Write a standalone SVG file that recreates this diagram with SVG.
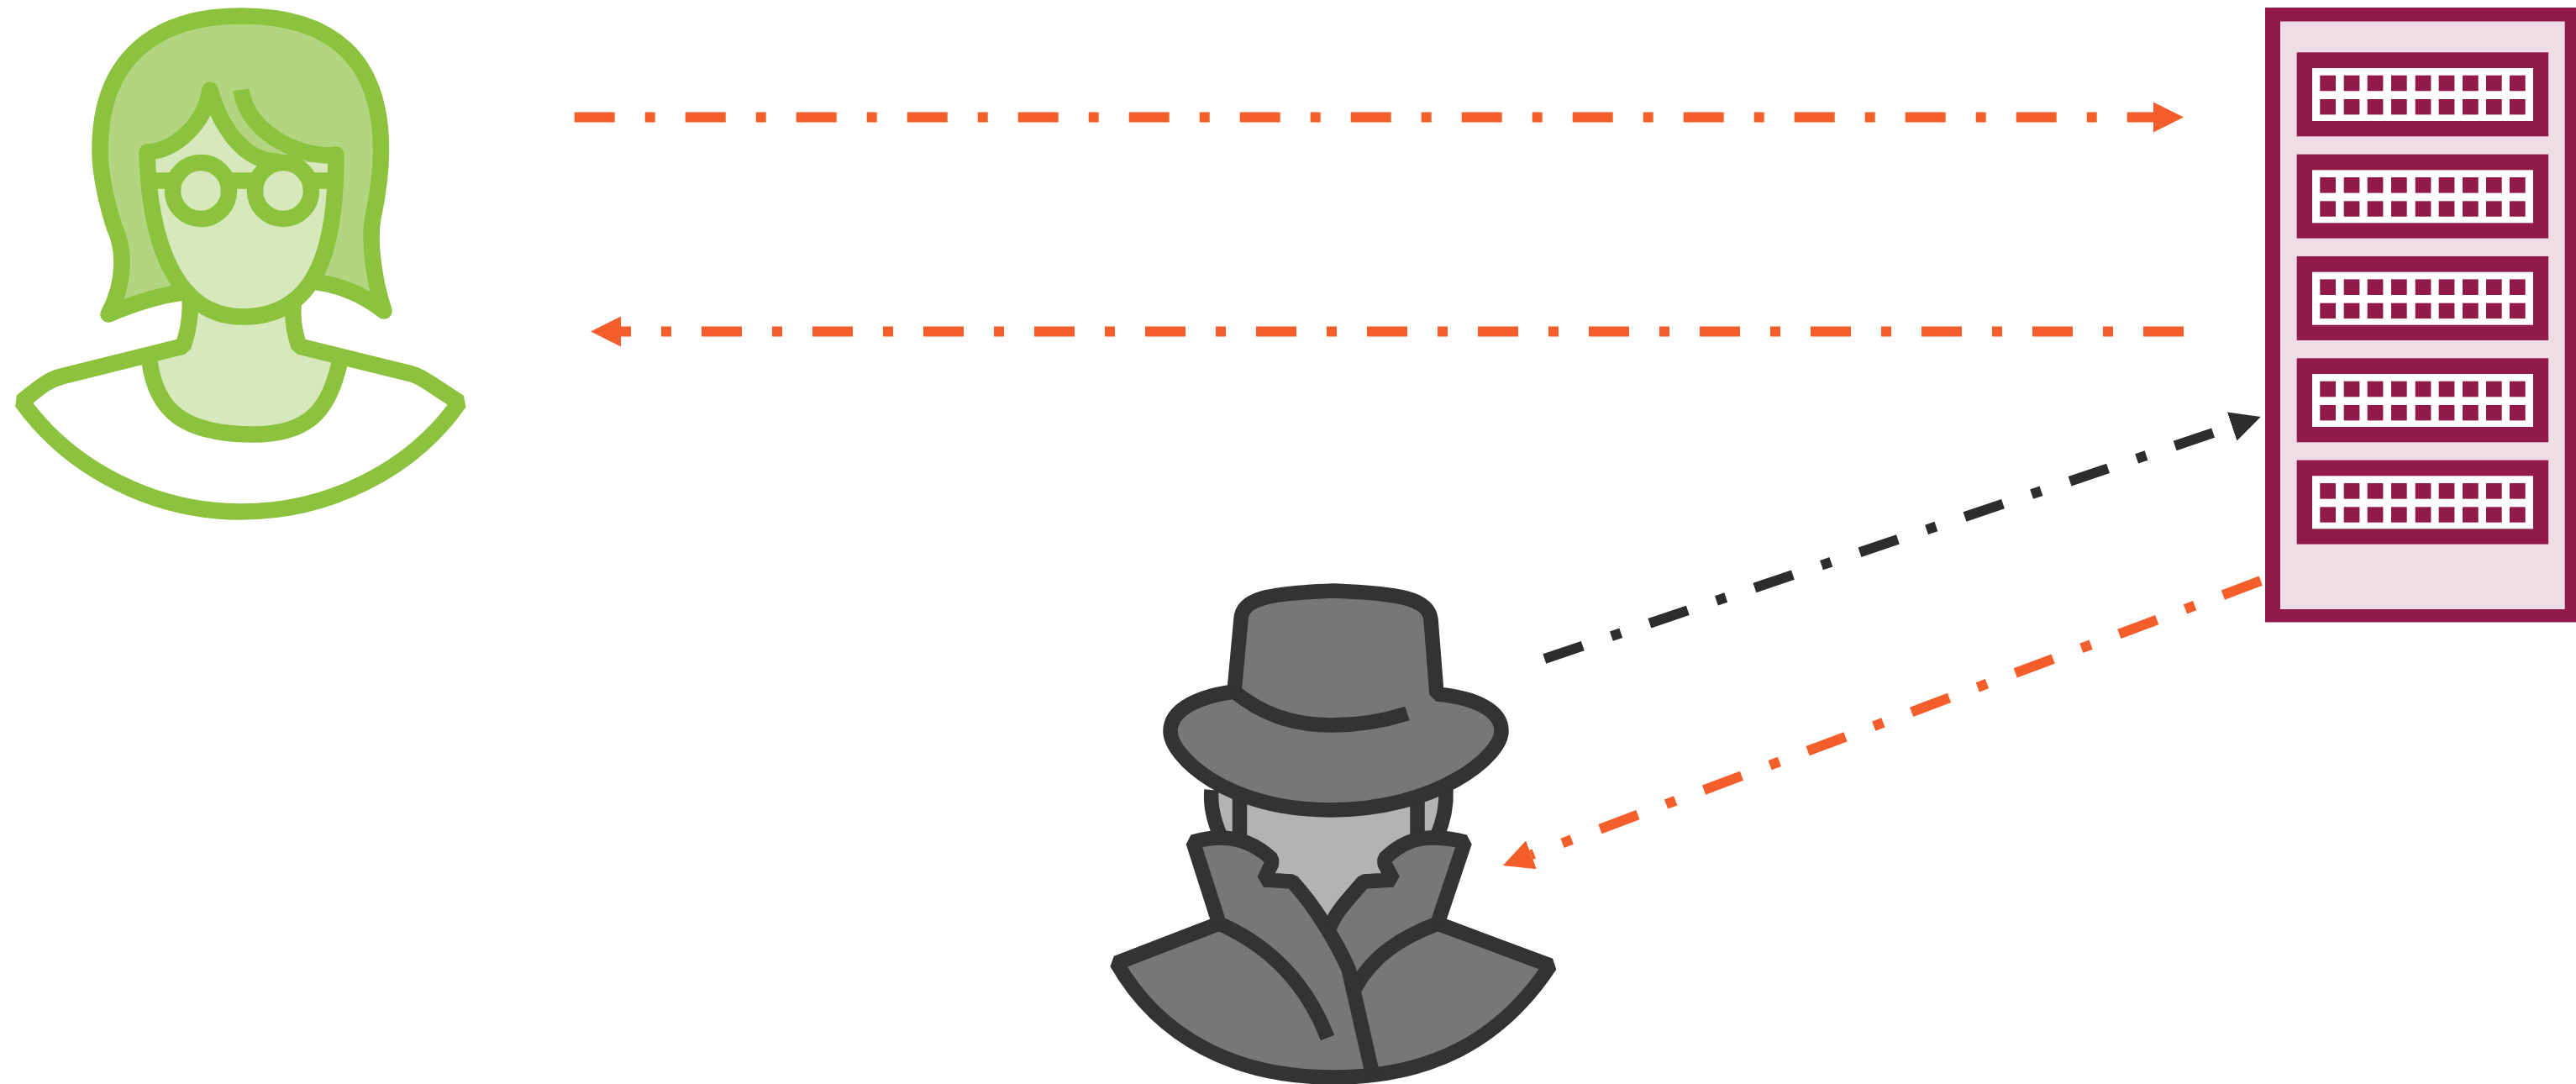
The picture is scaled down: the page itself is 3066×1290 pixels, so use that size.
<svg xmlns="http://www.w3.org/2000/svg" xmlns:xlink="http://www.w3.org/1999/xlink" width="3066" height="1290" viewBox="0 0 3066 1290">
<style>
.w{stroke:#8DC23F;stroke-width:19.5;stroke-linecap:round;stroke-linejoin:round;fill:none}
.s{stroke:#333333;stroke-width:17.5;stroke-linecap:butt;stroke-linejoin:bevel;fill:none}
.sf{fill:#777777}
.m{fill:#911A49}
.c{fill:none;stroke-width:12;stroke-dasharray:48 36 12 36}
.o{stroke:#F45E2B}
.k{stroke:#2D2D2D}
</style>
<defs>
<marker id="ao" markerUnits="userSpaceOnUse" markerWidth="36" markerHeight="36" refX="0" refY="18" orient="auto"><path d="M0,0L36,18L0,36Z" fill="#F45E2B"/></marker>
<marker id="ak" markerUnits="userSpaceOnUse" markerWidth="36" markerHeight="36" refX="0" refY="18" orient="auto"><path d="M0,0L36,18L0,36Z" fill="#2D2D2D"/></marker>
<g id="rack">
<rect class="m" x="2733.7" y="62.3" width="299.5" height="100"/>
<rect fill="#fff" x="2752" y="81" width="263" height="63"/>
<g class="m">
<rect x="2761.3" y="89.7" width="18.7" height="18.6"/><rect x="2789.7" y="89.7" width="18.7" height="18.6"/><rect x="2817.7" y="89.7" width="18.7" height="18.6"/><rect x="2846" y="89.7" width="18.7" height="18.6"/><rect x="2874.7" y="89.7" width="18.7" height="18.6"/><rect x="2902.7" y="89.7" width="18.7" height="18.6"/><rect x="2931" y="89.7" width="18.7" height="18.6"/><rect x="2959" y="89.7" width="18.7" height="18.6"/><rect x="2987" y="89.7" width="18.7" height="18.6"/>
<rect x="2761.3" y="118" width="18.7" height="18.4"/><rect x="2789.7" y="118" width="18.7" height="18.4"/><rect x="2817.7" y="118" width="18.7" height="18.4"/><rect x="2846" y="118" width="18.7" height="18.4"/><rect x="2874.7" y="118" width="18.7" height="18.4"/><rect x="2902.7" y="118" width="18.7" height="18.4"/><rect x="2931" y="118" width="18.7" height="18.4"/><rect x="2959" y="118" width="18.7" height="18.4"/><rect x="2987" y="118" width="18.7" height="18.4"/>
</g>
</g>
</defs>
<rect width="3066" height="1290" fill="#fff"/>

<g id="user">
<path d="M218,348C185,352 150,365 129,374C150,335 148,295 136,270C125,235 119,205 119,178C119,70 185,19 287,19C395,19 453.5,70 453.5,178C453.5,205 449,235 444,259C439,285 444,330 457,370C430,349 400,337 367,335" class="w" style="fill:#B2D580"/>
<path d="M226,355C228,380 222,400 218,412L73,448C55,453 45,463 26,478C85,560 185,609 287,609C390,609 490,560 546.5,479L513,457C505,452 498,447 490,445L356,412C350,395 347,375 350,355Z" fill="#fff"/>
<path d="M226,355C228,380 222,400 218,412L178,430C186,490 220,517 302,517C375,517 392,480 404,433L356,412C350,395 347,375 350,355Z" fill="#D6E9BC"/>
<path d="M226,355C228,380 222,400 218,412L73,448C55,453 45,463 26,478C85,560 185,609 287,609C390,609 490,560 546.5,479L513,457C505,452 498,447 490,445L356,412C350,395 347,375 350,355" class="w" style="stroke-linejoin:bevel"/>
<path d="M178,430C186,490 220,517 302,517C375,517 392,480 404,433" class="w"/>
<path d="M175,181C205,181 243,150 250,107C262,150 290,192 329,192L366,193L400,193C400,290 380,377 289,377C215,377 178,300 175,181Z" fill="#D6E9BC"/>
<path d="M400,184C400,290 380,377 289,377C215,377 178,300 175,181C205,181 243,150 250,107C262,150 290,192 329,192" class="w"/>
<path d="M287,107C295,165 370,190 400,184" class="w" style="stroke-linecap:butt"/>
<path d="M175,215H400" class="w" style="stroke-linecap:butt"/>
<circle cx="239" cy="227" r="33.5" class="w" style="fill:#D6E9BC"/>
<circle cx="337" cy="227" r="33.5" class="w" style="fill:#D6E9BC"/>
</g>

<g id="server">
<rect class="m" x="2696" y="9" width="370" height="731.5"/>
<rect fill="#EEDDE4" x="2714" y="25.5" width="338.7" height="699.5"/>
<use xlink:href="#rack" href="#rack"/>
<use xlink:href="#rack" href="#rack" y="121.33"/>
<use xlink:href="#rack" href="#rack" y="242.67"/>
<use xlink:href="#rack" href="#rack" y="364"/>
<use xlink:href="#rack" href="#rack" y="485.33"/>
</g>

<g id="attacker">
<path d="M1442,943C1440,960 1446,980 1453,993L1540,1060L1583,1103L1625,1060L1710,993C1717,980 1722,960 1721,943L1583,900Z" fill="#B3B3B3"/>
<path d="M1442,940C1440,960 1446,980 1453,996" class="s"/>
<path d="M1721,940C1722,960 1717,980 1710,996" class="s"/>
<path d="M1475.5,945V1000M1687,950V1000" class="s"/>
<path d="M1329,1146L1451,1099L1583,1100L1711,1099L1845,1149C1785,1240 1700,1282 1587,1282C1470,1282 1380,1235 1329,1146Z" class="sf"/>
<path d="M1451,1099L1420,1002C1430,999 1442,997 1453,997C1475,997 1495,1005 1513.5,1022V1028L1504.5,1047L1538,1049C1560,1075 1575,1100 1583,1103L1610,1180L1500,1200Z" class="sf"/>
<path d="M1711,1099L1743.4,1002C1733,999 1720,997 1703,997C1685,997 1665,1005 1648,1022V1028L1658,1047L1623,1049C1605,1070 1590,1085 1583,1103L1610,1180L1650,1130Z" class="sf"/>
<path d="M1580,1235C1555,1170 1510,1125 1451,1099L1329,1146C1380,1235 1470,1282 1587,1282C1700,1282 1785,1240 1845,1149L1711,1099C1670,1115 1635,1135 1612,1177" class="s"/>
<path d="M1451,1099L1420,1002C1430,999 1442,997 1453,997C1475,997 1495,1005 1513.5,1022V1028L1504.5,1047L1538,1049C1565,1078 1590,1120 1605,1153L1634,1280" class="s"/>
<path d="M1711,1099L1743.4,1002C1733,999 1720,997 1703,997C1685,997 1665,1005 1648,1022V1028L1658,1047L1623,1049C1605,1070 1590,1085 1583,1103" class="s"/>
<path d="M1469,823L1477,737C1478,712 1510,706 1587,703C1665,706 1700,712 1703,737L1710,826C1755,830 1787,845 1787,870C1787,900 1710,964 1583,964C1460,964 1393,900 1393,870C1393,843 1430,828 1469,823Z" class="s sf" style="fill:#777777"/>
<path d="M1469,823C1500,848 1535,863 1585,863C1620,863 1650,857 1675,849" class="s"/>
</g>

<g id="connectors">
<path d="M683.7,139.5H2563" class="c o" marker-end="url(#ao)"/>
<path d="M2599,394.5H739" class="c o" marker-end="url(#ao)"/>
<path d="M1838.3,784L2656.7,507.5" class="c k" marker-end="url(#ak)"/>
<path d="M2690.8,691.2L1822.5,1017.3" class="c o" marker-end="url(#ao)"/>
</g>
</svg>
